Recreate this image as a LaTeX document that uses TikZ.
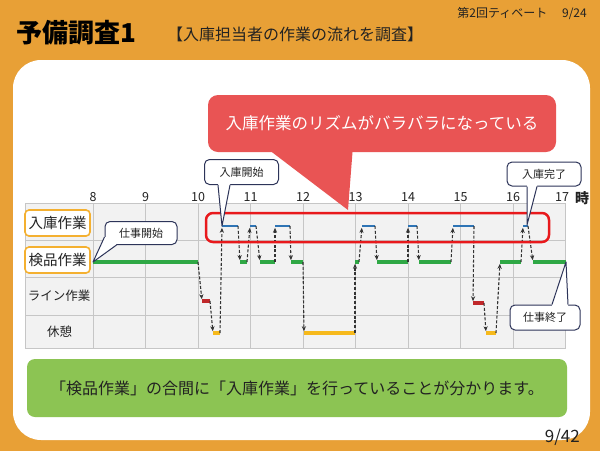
\documentclass[tikz,border=0pt]{standalone}
\usepackage{fontspec}
\setmainfont{Noto Sans CJK JP}
\usetikzlibrary{calc,arrows.meta}
\newcommand\fsz[1]{\fontsize{#1}{#1}\selectfont}
\definecolor{bgor}{HTML}{E8A036}
\definecolor{calred}{HTML}{E95454}
\definecolor{hlred}{HTML}{E8191C}
\definecolor{sumgreen}{HTML}{8CC453}
\definecolor{lgreen}{HTML}{2FA845}
\definecolor{lblue}{HTML}{2E74B5}
\definecolor{lred}{HTML}{C0282A}
\definecolor{lyellow}{HTML}{F6B91C}
\definecolor{gridfill}{HTML}{F2F2F2}
\definecolor{gridline}{HTML}{C6C6C6}
\definecolor{labor}{HTML}{F4B030}
\definecolor{navy}{HTML}{2D3459}
\definecolor{arrgray}{HTML}{333333}
\definecolor{txt}{HTML}{222222}
\tikzset{
  segG/.style={draw=lgreen,line width=4pt},
  segB/.style={draw=lblue,line width=2.5pt},
  segR/.style={draw=lred,line width=3.5pt},
  segY/.style={draw=lyellow,line width=3.5pt},
  flow/.style={draw=arrgray,line width=1.1pt,dash pattern=on 3pt off 1.8pt,
    -{Stealth[length=5pt,width=4.2pt]},shorten >=1.8pt},
  gridln/.style={draw=gridline,line width=0.9pt},
  rowlab/.style={draw=labor,line width=1.6pt,rounded corners=4pt,fill=white,
    minimum width=65pt,minimum height=26pt,inner sep=0pt,font=\fsz{14.5},text=txt},
  rowtxt/.style={inner sep=0pt,font=\fsz{12.5},text=txt},
  hr/.style={inner sep=0pt,font=\fsz{12.5},text=txt},
  note/.style={draw=navy,line width=1pt,fill=white,rounded corners=5pt,
    inner sep=0pt,minimum height=23pt,font=\fsz{11},text=txt},
  ptr/.style={draw=navy,line width=1pt,line join=round}
}
\begin{document}
\begin{tikzpicture}[x=1pt,y=-1pt]
\useasboundingbox (0,0) rectangle (600,451);
\fill[bgor] (0,0) rectangle (600,451);
\fill[white,rounded corners=28pt] (13,60) rectangle (590,440);

% header
\node[anchor=west,inner sep=0pt,font=\fsz{26}\bfseries] (title) at (16,33) {予備調査1};
\node[anchor=west,inner sep=0pt,font=\fsz{16},text=txt] (sub) at (167,34) {【入庫担当者の作業の流れを調査】};
\node[anchor=east,inner sep=0pt,font=\fsz{12},text=txt] (deb) at (587,13) {第2回ティベート　 9/24};

% grid
\fill[gridfill] (25,203) rectangle (565.5,348.5);
\foreach \yy in {203,240,277,315,348.5} \draw[gridln] (25,\yy) -- (565.5,\yy);
\draw[gridln] (25,203) -- (25,348.5);
\foreach \h in {8,...,17} \draw[gridln] ({93+52.5*(\h-8)},203) -- ({93+52.5*(\h-8)},348.5);

% hour labels
\foreach \h in {8,...,16} \node[hr] (h\h) at ({93+52.5*(\h-8)},197) {\h};
\node[hr] (h17) at (562,197) {17};
\node[inner sep=0pt,font=\fsz{14}\bfseries,text=txt] (ji) at (582,198) {時};

% row labels
\node[rowlab] (rIn) at (57.5,223) {入庫作業};
\node[rowlab] (rKen) at (57.5,260) {検品作業};
\node[rowtxt] (rLine) at (59,296) {ライン作業};
\node[rowtxt] (rRest) at (59.5,332) {休憩};

% segments
\foreach \st/\yy/\xa/\xb [count=\i] in {
  segG/262/93/198, segR/301/202/210, segY/333/213/220, segB/226/222/238,
  segG/262/240/247, segB/226/250/256, segG/262/260/275, segB/226/275/290,
  segG/262/291/303, segY/333/304/355, segG/262/355/359, segB/226/362/375,
  segG/262/377/408, segB/226/408/417, segG/262/419/451, segB/226/453/474,
  segR/303/473/484, segY/333/486/496, segG/262/500/521, segB/226/523/528,
  segG/262/533/566}
{
  \coordinate (s\i-a) at (\xa,\yy);
  \coordinate (s\i-b) at (\xb,\yy);
  \draw[\st] (s\i-a) -- (s\i-b);
}
% flow arrows
\foreach \i in {1,...,20} {
  \pgfmathtruncatemacro\j{\i+1}
  \draw[flow] (s\i-b) -- (s\j-a);
}

% highlight
\node[draw=hlred,line width=2.5pt,rounded corners=7pt,minimum width=343pt,
  minimum height=29pt,inner sep=0pt] (hl) at (377.5,227.5) {};

% big red callout
\coordinate (msgtip) at (348,210);
\node[fill=calred,rounded corners=10pt,minimum width=348pt,minimum height=57pt,
  inner sep=0pt,text=white,font=\fsz{16.5}] (msg) at (382,123.5) {入庫作業のリズムがバラバラになっている};
\fill[calred] ($(msg.south west)+(59,-4)$) -- (msgtip) -- ($(msg.south west)+(145,-4)$) -- cycle;

% small callouts
\node[note,minimum width=72pt] (cStart) at (141,233) {仕事開始};
\coordinate (b1) at ($(cStart.west)+(0,4)$);
\coordinate (b2) at ($(cStart.south west)+(12,0)$);
\fill[white] (b1) -- (s1-a) -- (b2) -- ($(cStart.south west)+(7,-7)$) -- cycle;
\draw[ptr] (b1) -- (s1-a) -- (b2);

\node[note,minimum width=74pt,minimum height=25pt] (cIn) at (241.5,172) {入庫開始};
\coordinate (b3) at ($(cIn.south)+(-23.5,0)$);
\coordinate (b4) at ($(cIn.south)+(-11.5,0)$);
\fill[white] (b3) -- (s4-a) -- (b4) -- ($(b4)+(0,-3)$) -- ($(b3)+(0,-3)$) -- cycle;
\draw[ptr] (b3) -- (s4-a) -- (b4);

\node[note,minimum width=74pt,minimum height=24pt] (cDone) at (544,174) {入庫完了};
\coordinate (b5) at ($(cDone.south)+(-17,0)$);
\coordinate (b6) at ($(cDone.south)+(-7,0)$);
\coordinate (t6) at ($(s20-b)+(-1,-1)$);
\fill[white] (b5) -- (t6) -- (b6) -- ($(b6)+(0,-3)$) -- ($(b5)+(0,-3)$) -- cycle;
\draw[ptr] (b5) -- (t6) -- (b6);

\node[note,minimum width=70pt,minimum height=25pt] (cEnd) at (545,317.5) {仕事終了};
\coordinate (b7) at ($(cEnd.north)+(7,0)$);
\coordinate (b8) at ($(cEnd.north)+(23,0)$);
\fill[white] (b7) -- (s21-b) -- (b8) -- ($(b8)+(0,3)$) -- ($(b7)+(0,3)$) -- cycle;
\draw[ptr] (b7) -- (s21-b) -- (b8);

% summary
\node[fill=sumgreen,rounded corners=8pt,minimum width=540pt,minimum height=58pt,
  inner sep=0pt,font=\fsz{16},text=txt] (sum) at (297,388) {「検品作業」の合間に「入庫作業」を行っていることが分かります。};
\node[anchor=east,inner sep=0pt,font=\fsz{17},text=txt] (pg) at (580,437) {9/42};
\end{tikzpicture}
\end{document}
